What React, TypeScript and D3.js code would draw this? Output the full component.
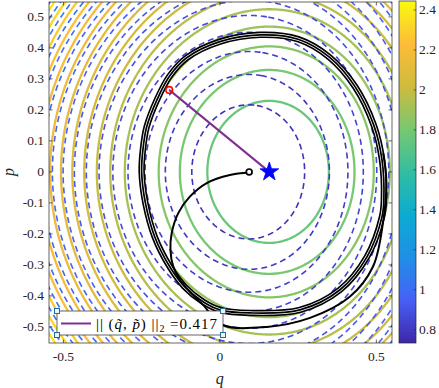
import React from 'react'
import * as d3 from 'd3'

// figure layout (pixels)
const W = 439
const H = 388
const PLOT = { left: 49, right: 392, top: 2, bottom: 343 }
const CBAR = { left: 399, right: 416, top: 1, bottom: 343 }

// axis domains
const Q_DOMAIN = [-0.546, 0.55]
const P_DOMAIN = [-0.552, 0.548]
const C_DOMAIN = [0.733, 2.445]

const xTicks = [-0.5, 0, 0.5]
const yTicks = [-0.5, -0.4, -0.3, -0.2, -0.1, 0, 0.1, 0.2, 0.3, 0.4, 0.5]
const cbTicks = [0.8, 1, 1.2, 1.4, 1.6, 1.8, 2, 2.2, 2.4]

// contour levels (solid = true H, dashed = learned H)
const trueLevels = [1.76, 1.8, 1.84, 1.88, 1.92, 1.96, 2.0, 2.04, 2.08, 2.12, 2.16, 2.2, 2.24, 2.28, 2.32, 2.36, 2.4]
const learnedLevels = [0.78, 0.8, 0.82, 0.84, 0.86, 0.88, 0.9, 0.92, 0.94, 0.96, 0.98, 1.0, 1.02, 1.04, 1.06, 1.08, 1.1]

// field parameters
const trueCenter = [0.157, 0]
const trueBase = 1.7223
const trueAspect = 1.18
const learnedCenter = [0.093, 0]
const learnedBase = 0.762
const learnedScale = 0.554
const learnedAspect = 1.2
const skew = 0.15

// markers
const equilibrium = [0.158, 0]
const learnedEquilibrium = [0.0936, 0]
const probePoint = [-0.162, 0.2645]
const errorNorm = 0.417

// trajectory, first pass from the start point
const startPath: [number, number][] = [
  [0.094, -0.002], [0.032, -0.01], [-0.042, -0.036], [-0.096, -0.08], [-0.133, -0.133],
  [-0.154, -0.198], [-0.158, -0.252], [-0.149, -0.305], [-0.128, -0.348], [-0.096, -0.386],
  [-0.054, -0.429], [0.01, -0.494], [0.15, -0.5], [0.288, -0.471], [0.415, -0.403],
  [0.489, -0.306], [0.521, -0.165], [0.532, -0.03], [0.522, 0.06],
]

// settled orbit
const orbit: [number, number][] = [
  [0.524, -0.09], [0.518, 0.039], [0.492, 0.15], [0.432, 0.275], [0.35, 0.37],
  [0.25, 0.428], [0.128, 0.442], [0, 0.42], [-0.106, 0.368], [-0.16, 0.31],
  [-0.2, 0.235], [-0.234, 0.145], [-0.246, 0.071], [-0.25, 0], [-0.238, -0.1],
  [-0.208, -0.21], [-0.16, -0.306], [-0.112, -0.371], [-0.054, -0.419], [0, -0.445],
  [0.096, -0.455], [0.256, -0.445], [0.383, -0.381], [0.47, -0.274], [0.518, -0.145],
]

const parulaStops = [0, 0.125, 0.25, 0.375, 0.5, 0.625, 0.75, 0.875, 1]
const parulaColors = ['#3e26a8', '#4760f7', '#1f90e6', '#0cabd2', '#32bea0', '#78c870', '#d0bb3d', '#fdbc38', '#f9fb0e']

const FONT = "'Liberation Serif', 'DejaVu Serif', serif"
const AXIS = '#262626'

// grid for contouring (larger than the view, clipped later)
const G_MIN = -0.7
const G_MAX = 0.7
const N = 281

function trueH(q: number, p: number) {
  const d = q - trueCenter[0]
  const e = (p - trueCenter[1]) / trueAspect
  return trueBase + d * d * (1 + skew * d) + e * e
}
function learnedH(q: number, p: number) {
  const d = q - learnedCenter[0]
  const e = (p - learnedCenter[1]) / learnedAspect
  return learnedBase + learnedScale * (d * d * (1 + skew * d) + e * e)
}

export default function App() {
  const x = d3.scaleLinear().domain(Q_DOMAIN).range([PLOT.left, PLOT.right])
  const y = d3.scaleLinear().domain(P_DOMAIN).range([PLOT.bottom, PLOT.top])
  const cy = d3.scaleLinear().domain(C_DOMAIN).range([CBAR.bottom, CBAR.top])
  const color = d3
    .scaleLinear<string>()
    .domain(parulaStops.map(t => C_DOMAIN[0] + t * (C_DOMAIN[1] - C_DOMAIN[0])))
    .range(parulaColors)
    .interpolate(d3.interpolateRgb)
    .clamp(true)

  const step = (G_MAX - G_MIN) / (N - 1)
  const trueGrid: number[] = []
  const learnedGrid: number[] = []
  for (let j = 0; j < N; j++) {
    for (let i = 0; i < N; i++) {
      const q = G_MIN + i * step
      const p = G_MIN + j * step
      trueGrid.push(trueH(q, p))
      learnedGrid.push(learnedH(q, p))
    }
  }
  const proj = d3.geoTransform({
    point(gx: number, gy: number) {
      // @ts-ignore
      this.stream.point(x(G_MIN + (gx - 0.5) * step), y(G_MIN + (gy - 0.5) * step))
    },
  })
  const path = d3.geoPath(proj)
  const trueContours = d3.contours().size([N, N]).thresholds(trueLevels)(trueGrid)
  const learnedContours = d3.contours().size([N, N]).thresholds(learnedLevels)(learnedGrid)

  const line = d3
    .line<[number, number]>()
    .x(d => x(d[0]))
    .y(d => y(d[1]))
    .curve(d3.curveCatmullRom)
  const loop = d3
    .line<[number, number]>()
    .x(d => x(d[0]))
    .y(d => y(d[1]))
    .curve(d3.curveCatmullRomClosed)

  const gradStops = d3.range(0, 1.0001, 1 / 40)
  const star = d3.symbol(d3.symbolStar, 110)()

  return (
    <svg width={W} height={H} style={{ position: 'absolute', left: 0, top: 0, background: '#fff' }}>
      <defs>
        <clipPath id="plotClip">
          <rect x={PLOT.left} y={PLOT.top} width={PLOT.right - PLOT.left} height={PLOT.bottom - PLOT.top} />
        </clipPath>
        <linearGradient id="parula" x1="0" y1="1" x2="0" y2="0">
          {gradStops.map(t => (
            <stop key={t} offset={t} stopColor={color(C_DOMAIN[0] + t * (C_DOMAIN[1] - C_DOMAIN[0]))} />
          ))}
        </linearGradient>
      </defs>

      <rect x={PLOT.left} y={PLOT.top} width={PLOT.right - PLOT.left} height={PLOT.bottom - PLOT.top} fill="#fff" />

      <g clipPath="url(#plotClip)" fill="none">
        {trueContours.map(c => (
          <path key={'t' + c.value} d={path(c as any) || ''} stroke={color(c.value)} strokeWidth={2.3} />
        ))}
        {learnedContours.map(c => (
          <path key={'l' + c.value} d={path(c as any) || ''} stroke={color(c.value)} strokeWidth={1.6} strokeDasharray="6 4" />
        ))}

        {/* settled orbit: several close passes */}
        <path d={loop(orbit) || ''} stroke="#000" strokeWidth={6.5} />
        <path d={loop(orbit) || ''} stroke="#fff" strokeWidth={3.2} />
        <path d={loop(orbit) || ''} stroke="#000" strokeWidth={1.7} />
        <path d={line(startPath) || ''} stroke="#000" strokeWidth={2} />

        <line
          x1={x(probePoint[0])}
          y1={y(probePoint[1])}
          x2={x(equilibrium[0])}
          y2={y(equilibrium[1])}
          stroke="#7e2f8e"
          strokeWidth={2}
        />
        <circle cx={x(probePoint[0])} cy={y(probePoint[1])} r={3.3} fill="none" stroke="#ff0000" strokeWidth={1.6} />
        <circle cx={x(learnedEquilibrium[0])} cy={y(learnedEquilibrium[1])} r={2.9} fill="#fff" stroke="#000" strokeWidth={1.7} />
        <path d={star || ''} transform={`translate(${x(equilibrium[0])},${y(equilibrium[1])})`} fill="#0000ff" stroke="#0000ff" strokeWidth={0.8} />
      </g>

      {/* axes box and ticks */}
      <rect x={PLOT.left} y={PLOT.top} width={PLOT.right - PLOT.left} height={PLOT.bottom - PLOT.top} fill="none" stroke={AXIS} strokeWidth={0.7} />
      {xTicks.map(t => (
        <g key={'x' + t}>
          <line x1={x(t)} x2={x(t)} y1={PLOT.bottom} y2={PLOT.bottom - 3.5} stroke={AXIS} strokeWidth={0.7} />
          <line x1={x(t)} x2={x(t)} y1={PLOT.top} y2={PLOT.top + 3.5} stroke={AXIS} strokeWidth={0.7} />
          <text x={x(t)} y={361} textAnchor="middle" fontFamily={FONT} fontSize={13.5} fill={AXIS}>
            {t === 0 ? '0' : String(t)}
          </text>
        </g>
      ))}
      {yTicks.map(t => (
        <g key={'y' + t}>
          <line x1={PLOT.left} x2={PLOT.left + 3.5} y1={y(t)} y2={y(t)} stroke={AXIS} strokeWidth={0.7} />
          <line x1={PLOT.right} x2={PLOT.right - 3.5} y1={y(t)} y2={y(t)} stroke={AXIS} strokeWidth={0.7} />
          <text x={44} y={y(t) + 4.5} textAnchor="end" fontFamily={FONT} fontSize={13.5} fill={AXIS}>
            {Math.abs(t) < 1e-9 ? '0' : d3.format('.1f')(t).replace('−', '-')}
          </text>
        </g>
      ))}
      <text x={x(0)} y={384} textAnchor="middle" fontFamily={FONT} fontStyle="italic" fontSize={16} fill={AXIS}>
        q
      </text>
      <text
        transform={`translate(14,${y(0)}) rotate(-90)`}
        textAnchor="middle"
        fontFamily={FONT}
        fontStyle="italic"
        fontSize={16}
        fill={AXIS}
      >
        p
      </text>

      {/* colorbar */}
      <rect x={CBAR.left} y={CBAR.top} width={CBAR.right - CBAR.left} height={CBAR.bottom - CBAR.top} fill="url(#parula)" stroke={AXIS} strokeWidth={0.7} />
      {cbTicks.map(t => (
        <g key={'c' + t}>
          <line x1={CBAR.right} x2={CBAR.right - 2.5} y1={cy(t)} y2={cy(t)} stroke={AXIS} strokeWidth={0.6} />
          <text x={419} y={cy(t) + 4.5} fontFamily={FONT} fontSize={13.5} fill={AXIS}>
            {String(t)}
          </text>
        </g>
      ))}

      {/* legend */}
      <g>
        <rect x={57} y={311} width={166} height={24} fill="#fff" stroke={AXIS} strokeWidth={0.7} />
        <line x1={61} x2={91} y1={323.5} y2={323.5} stroke="#7e2f8e" strokeWidth={2} />
        <text x={96} y={329} fontFamily={FONT} fontSize={15} fill="#000" textLength={121} lengthAdjust="spacing">
          <tspan>|| (</tspan>
          <tspan fontStyle="italic">{'q\u0303'}</tspan>
          <tspan>, </tspan>
          <tspan fontStyle="italic">{'p\u0303'}</tspan>
          <tspan>) ||</tspan>
          <tspan fontSize={10} dy={3}>2</tspan>
          <tspan dy={-3}>{' =' + errorNorm}</tspan>
        </text>
        {[
          [57, 311],
          [57, 335],
          [223, 311],
          [223, 335],
        ].map(([hx, hy]) => (
          <rect key={hx + '-' + hy} x={hx - 2.5} y={hy - 2.5} width={5} height={5} fill="#eaf4fa" stroke="#1d6d9e" strokeWidth={1} />
        ))}
      </g>
    </svg>
  )
}
